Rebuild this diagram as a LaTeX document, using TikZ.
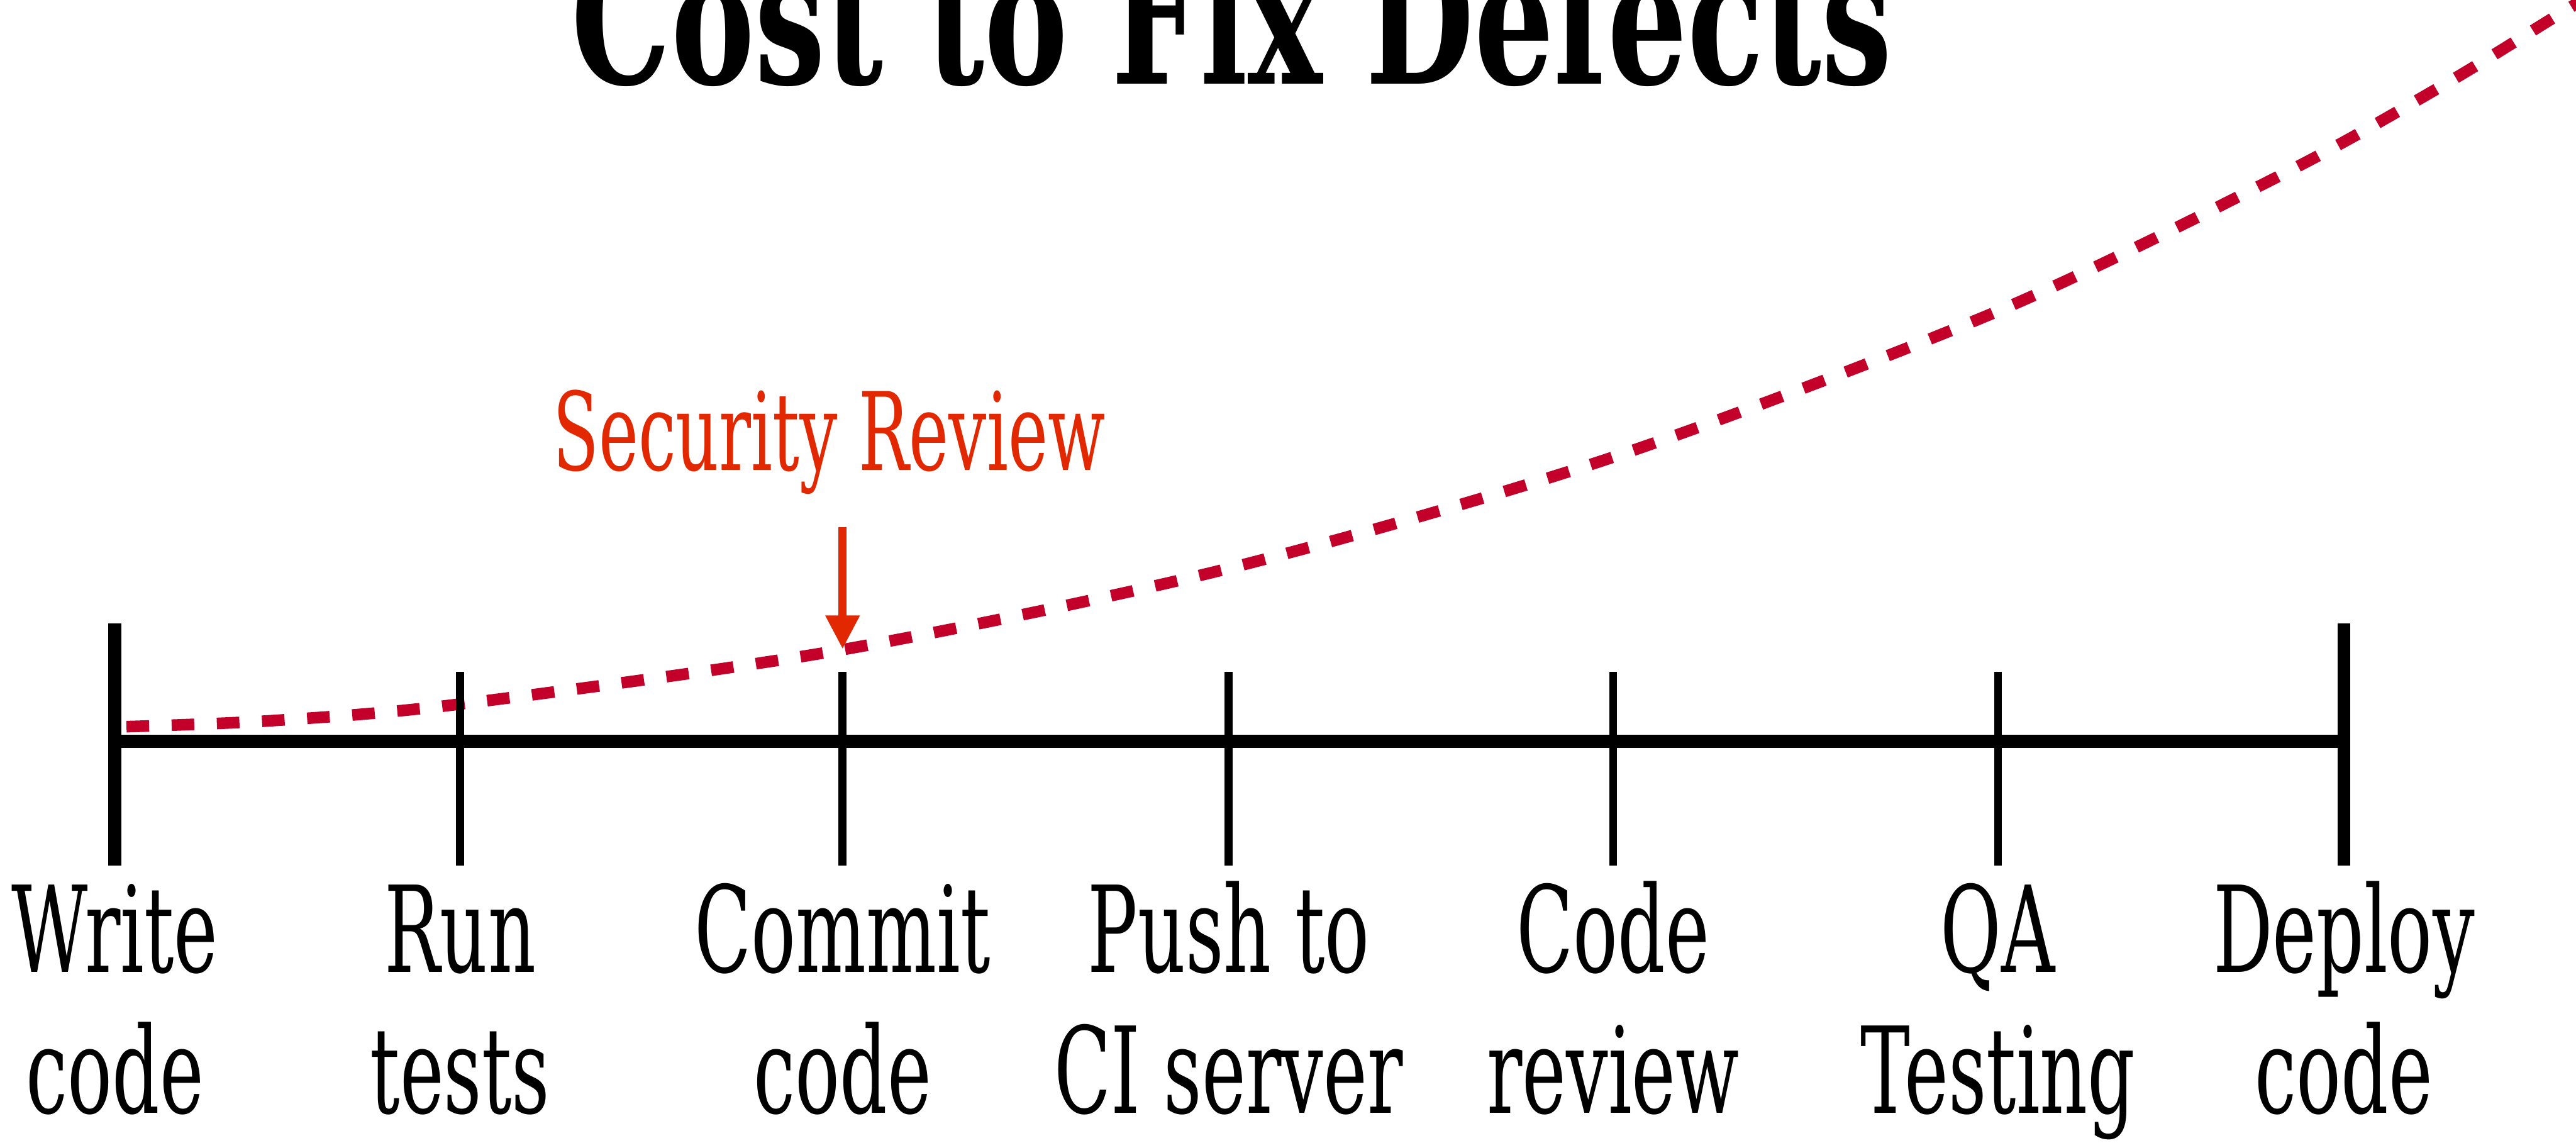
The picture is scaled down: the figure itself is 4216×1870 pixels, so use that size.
\documentclass[tikz,border=0pt]{standalone}
\usepackage{fontspec}
\setmainfont{DejaVu Serif}[FakeStretch=0.62]
\newfontfamily\titlefont{DejaVu Serif}[FakeStretch=0.685]
\usetikzlibrary{arrows.meta}
\definecolor{revred}{RGB}{226,40,0}
\definecolor{costred}{RGB}{195,0,42}
\tikzset{
  axisline/.style={line width=5.25pt, line cap=butt, black},
  endtick/.style={line width=5.25pt, line cap=butt, black},
  midtick/.style={line width=3.25pt, line cap=butt, black},
  costcurve/.style={line width=4.75pt, costred, dash pattern=on 9.25pt off 9.25pt, line cap=butt},
  revarrow/.style={line width=3.25pt, revred, -{Triangle[length=13.75pt, width=13.25pt]}},
  steplabel/.style={anchor=base, align=center, inner sep=0pt, font=\fontsize{49}{57.5}\selectfont},
}
\begin{document}
\begin{tikzpicture}[x=0.25pt, y=-0.25pt]
\useasboundingbox (0,0) rectangle (4216,1870);
\fill[white] (0,0) rectangle (4216,1870);

% title (cut off at the top edge, as in the reference)
\node[anchor=base, inner sep=0pt, font=\titlefont\bfseries\fontsize{74.75}{80}\selectfont] (title) at (2016,137) {Cost to Fix Defects};

% cost curve
\begin{scope}
\clip (0,0) rectangle (4216,1870);
\draw[costcurve] plot[smooth, tension=0.5] coordinates {(207,1189) (448,1179) (753,1152) (1379,1063) (2011,930) (2640,748) (3270,509) (3740,283) (4001,138) (4192,21) (4260,-20)};
\end{scope}

% axis
\coordinate (a1) at (188,1213);
\coordinate (a7) at (3836,1213);
\draw[axisline] (a1) -- (a7);

% ticks
\coordinate (t1top) at (188,1020); \coordinate (t1bot) at (188,1416);
\coordinate (t7top) at (3836,1020); \coordinate (t7bot) at (3836,1416);
\draw[endtick] (t1top) -- (t1bot);
\draw[endtick] (t7top) -- (t7bot);
\foreach \n/\x in {2/753, 3/1379, 4/2011, 5/2640, 6/3270} {
  \coordinate (t\n top) at (\x,1099);
  \coordinate (t\n bot) at (\x,1416);
  \draw[midtick] (t\n top) -- (t\n bot);
}

% security review
\node[anchor=base, inner sep=0pt, text=revred, font=\fontsize{44.25}{50}\selectfont] (sec) at (1357,769) {Security Review};
\coordinate (arrtop) at (1379,863);
\coordinate (arrtip) at (1379,1062);
\draw[revarrow] (arrtop) -- (arrtip);

% labels (base anchor = baseline of the second line)
\node[steplabel] (l1) at (188,1821) {Write\\code};
\node[steplabel] (l2) at (753,1821) {Run\\tests};
\node[steplabel] (l3) at (1379,1821) {Commit\\code};
\node[steplabel] (l4) at (2011,1821) {Push to\\CI server};
\node[steplabel] (l5) at (2640,1821) {Code\\review};
\node[steplabel] (l6) at (3270,1821) {QA\\Testing};
\node[steplabel] (l7) at (3836,1821) {Deploy\\code};
\end{tikzpicture}
\end{document}
